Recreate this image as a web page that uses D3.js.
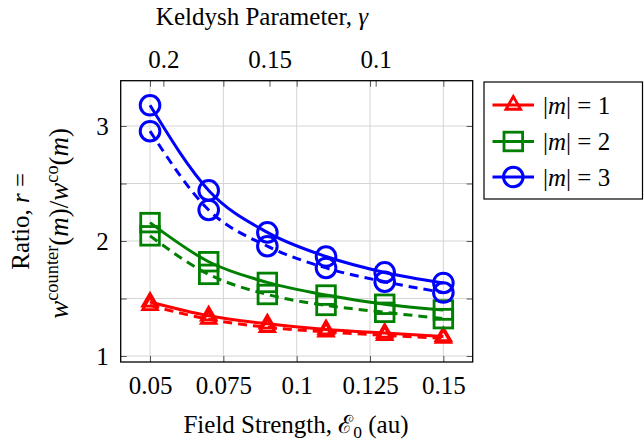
<!DOCTYPE html>
<html>
<head>
<meta charset="utf-8">
<script src="https://cdn.jsdelivr.net/npm/d3@7"></script>
<style>
  html, body { margin: 0; padding: 0; background: #fff; }
  svg { display: block; }
</style>
</head>
<body>
<svg id="chart" width="644" height="447"></svg>
<script>
// Field strengths (au) where the ratio was computed
const fieldStrength = [0.05, 0.07, 0.09, 0.11, 0.13, 0.15];

// Ratio r for each |m|; solid and dashed variants
const m1Solid  = [1.47, 1.35, 1.28, 1.23, 1.20, 1.17];
const m1Dashed = [1.44, 1.32, 1.25, 1.21, 1.18, 1.155];
const m2Solid  = [2.16, 1.82, 1.64, 1.53, 1.45, 1.40];
const m2Dashed = [2.045, 1.71, 1.535, 1.44, 1.38, 1.325];
const m3Solid  = [3.18, 2.44, 2.075, 1.865, 1.727, 1.635];
const m3Dashed = [2.955, 2.27, 1.955, 1.766, 1.646, 1.552];

// Axis ticks
const xTicks = [0.05, 0.075, 0.1, 0.125, 0.15];
const xTickLabels = ["0.05", "0.075", "0.1", "0.125", "0.15"];
const yTicks = [1, 1.5, 2, 2.5, 3];
const yTickLabels = ["1", "", "2", "", "3"];
const gammaTicks = [0.2, 0.15, 0.1];
const gammaTickLabels = ["0.2", "0.15", "0.1"];

const seriesLabels = ["1", "2", "3"];
const seriesColors = ["#ff0000", "#008000", "#0000ff"];
const seriesMarkers = ["triangle", "square", "circle"];

const svg = d3.select("#chart");
const plot = { left: 120.7, right: 472.7, top: 80.7, bottom: 362 };

const x = d3.scaleLinear().domain([0.04, 0.16]).range([plot.left, plot.right]);
const y = d3.scaleLinear().domain([0.948, 3.394]).range([plot.bottom, plot.top]);
const xTop = d3.scaleLinear().domain([0.2201, 0.0543]).range([plot.left, plot.right]);

const fs = 25;
const serif = '"Liberation Serif"';

// grid
const grid = svg.append("g").attr("stroke", "#d4d4d4").attr("stroke-width", 1);
grid.selectAll("line.gx").data(xTicks).join("line")
  .attr("x1", d => x(d)).attr("x2", d => x(d))
  .attr("y1", plot.top).attr("y2", plot.bottom);
grid.selectAll("line.gy").data(yTicks).join("line")
  .attr("y1", d => y(d)).attr("y2", d => y(d))
  .attr("x1", plot.left).attr("x2", plot.right);

// axes (ticks pointing inward)
const tickColor = "#555";
const bottomAxis = d3.axisBottom(x).tickValues(xTicks).tickSize(-6).tickFormat((d, i) => xTickLabels[i]).tickPadding(14);
const gB = svg.append("g").attr("transform", `translate(0,${plot.bottom})`).call(bottomAxis);
const leftAxis = d3.axisLeft(y).tickValues(yTicks).tickSize(-6).tickFormat((d, i) => yTickLabels[i]).tickPadding(12);
const gL = svg.append("g").attr("transform", `translate(${plot.left},0)`).call(leftAxis);
const rightAxis = d3.axisRight(y).tickValues(yTicks).tickSize(-6).tickFormat("");
const gR = svg.append("g").attr("transform", `translate(${plot.right},0)`).call(rightAxis);
const topAxis = d3.axisTop(xTop).tickValues(gammaTicks).tickSize(-6).tickFormat((d, i) => gammaTickLabels[i]).tickPadding(13);
const gT = svg.append("g").attr("transform", `translate(0,${plot.top})`).call(topAxis);
const topGridTicks = d3.axisTop(x).tickValues(xTicks).tickSize(-6).tickFormat("");
const gT2 = svg.append("g").attr("transform", `translate(0,${plot.top})`).call(topGridTicks);

[gB, gL, gR, gT, gT2].forEach(g => {
  g.select(".domain").remove();
  g.selectAll(".tick line").attr("stroke", tickColor).attr("stroke-width", 1);
  g.selectAll(".tick text").attr("font-size", fs).attr("fill", "#000");
});
gL.selectAll(".tick text").attr("dy", "0.33em");

// data series
const groups = [
  { color: seriesColors[0], marker: seriesMarkers[0], solid: m1Solid, dashed: m1Dashed },
  { color: seriesColors[1], marker: seriesMarkers[1], solid: m2Solid, dashed: m2Dashed },
  { color: seriesColors[2], marker: seriesMarkers[2], solid: m3Solid, dashed: m3Dashed }
];

const line = d3.line()
  .x(d => x(d[0])).y(d => y(d[1]))
  .curve(d3.curveMonotoneX);

function drawMarker(g, type, cx, cy, color) {
  if (type === "circle") {
    g.append("circle").attr("cx", cx).attr("cy", cy).attr("r", 9.8)
      .attr("fill", "none").attr("stroke", color).attr("stroke-width", 3);
  } else if (type === "square") {
    const h = 9.3;
    g.append("rect").attr("x", cx - h).attr("y", cy - h).attr("width", 2 * h).attr("height", 2 * h)
      .attr("fill", "none").attr("stroke", color).attr("stroke-width", 2.8);
  } else {
    const r = 8.5;
    const pts = [[cx, cy - r], [cx - 0.866 * r, cy + 0.5 * r], [cx + 0.866 * r, cy + 0.5 * r]];
    g.append("path").attr("d", "M" + pts.map(p => p.join(",")).join("L") + "Z")
      .attr("fill", "none").attr("stroke", color).attr("stroke-width", 2.8).attr("stroke-linejoin", "miter");
  }
}

const dataLayer = svg.append("g");
groups.forEach(s => {
  const solidPts = fieldStrength.map((f, i) => [f, s.solid[i]]);
  const dashedPts = fieldStrength.map((f, i) => [f, s.dashed[i]]);
  dataLayer.append("path").datum(dashedPts).attr("d", line)
    .attr("fill", "none").attr("stroke", s.color).attr("stroke-width", 3)
    .attr("stroke-dasharray", "9,6");
  dataLayer.append("path").datum(solidPts).attr("d", line)
    .attr("fill", "none").attr("stroke", s.color).attr("stroke-width", 3);
  dashedPts.forEach(p => drawMarker(dataLayer, s.marker, x(p[0]), y(p[1]), s.color));
  solidPts.forEach(p => drawMarker(dataLayer, s.marker, x(p[0]), y(p[1]), s.color));
});

// frame
svg.append("rect")
  .attr("x", plot.left).attr("y", plot.top)
  .attr("width", plot.right - plot.left).attr("height", plot.bottom - plot.top)
  .attr("fill", "none").attr("stroke", "#000").attr("stroke-width", 1.3);

// top title
const tTop = svg.append("text").attr("x", 262).attr("y", 25).attr("text-anchor", "middle").attr("font-size", fs);
tTop.append("tspan").text("Keldysh Parameter, ");
tTop.append("tspan").attr("font-style", "italic").text("γ");

// bottom title
const tBot = svg.append("text").attr("x", 296).attr("y", 433).attr("text-anchor", "middle").attr("font-size", fs);
tBot.append("tspan").text("Field Strength, ");
tBot.append("tspan").attr("font-size", fs).text("ℰ");
tBot.append("tspan").attr("font-size", fs * 0.7).attr("dy", 5).text("0");
tBot.append("tspan").attr("dy", -5).text(" (au)");

// y title, two rotated lines
const cy = (plot.top + plot.bottom) / 2;
const yl1 = svg.append("text").attr("transform", `translate(29,${cy}) rotate(-90)`)
  .attr("text-anchor", "middle").attr("font-size", fs);
yl1.append("tspan").text("Ratio, ");
yl1.append("tspan").attr("font-style", "italic").text("r");
yl1.append("tspan").text(" =");

const fs2 = 27;
const yl2 = svg.append("text").attr("transform", `translate(68,${cy + 2}) rotate(-90)`)
  .attr("text-anchor", "middle").attr("font-size", fs2);
yl2.append("tspan").attr("font-style", "italic").text("w");
yl2.append("tspan").attr("font-size", fs2 * 0.68).attr("dy", -10).text("counter");
yl2.append("tspan").attr("dy", 10).text("(");
yl2.append("tspan").attr("font-style", "italic").text("m");
yl2.append("tspan").text(")/");
yl2.append("tspan").attr("font-style", "italic").text("w");
yl2.append("tspan").attr("font-size", fs2 * 0.68).attr("dy", -10).text("co");
yl2.append("tspan").attr("dy", 10).text("(");
yl2.append("tspan").attr("font-style", "italic").text("m");
yl2.append("tspan").text(")");

// legend
const legend = svg.append("g");
legend.append("rect").attr("x", 484).attr("y", 82).attr("width", 158.5).attr("height", 117)
  .attr("fill", "#fff").attr("stroke", "#000").attr("stroke-width", 1.2);
const legendRows = [105, 141.5, 177];
groups.forEach((s, i) => {
  const ly = legendRows[i];
  legend.append("line").attr("x1", 492.5).attr("x2", 534).attr("y1", ly).attr("y2", ly)
    .attr("stroke", s.color).attr("stroke-width", 3);
  drawMarker(legend, s.marker, 513.3, ly, s.color);
  const t = legend.append("text").attr("x", 543).attr("y", ly + 8.5).attr("font-size", fs);
  t.append("tspan").text("|");
  t.append("tspan").attr("font-style", "italic").text("m");
  t.append("tspan").text("| = " + seriesLabels[i]);
});

// serif face for every label
svg.selectAll("text").style("font-family", serif).style("fill", "#000");
</script>
</body>
</html>
